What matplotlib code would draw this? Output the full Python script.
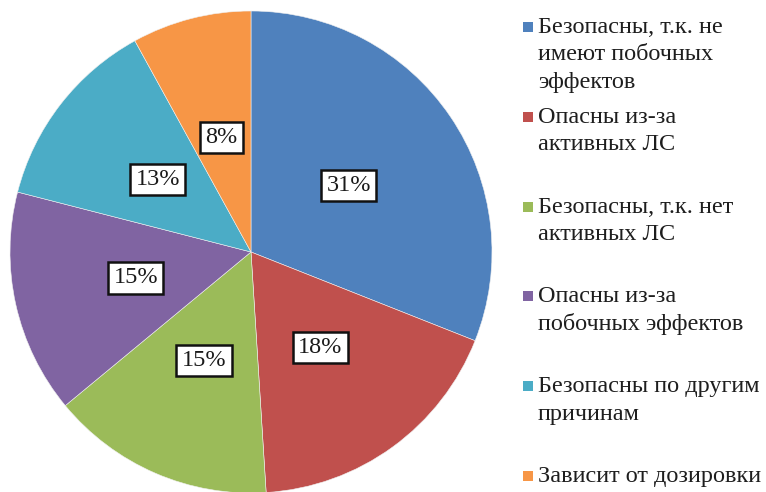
import matplotlib
matplotlib.use("Agg")
import matplotlib.pyplot as plt
from matplotlib.patches import Rectangle

categories = [
    "Безопасны, т.к. не\nимеют побочных\nэффектов",
    "Опасны из-за\nактивных ЛС",
    "Безопасны, т.к. нет\nактивных ЛС",
    "Опасны из-за\nпобочных эффектов",
    "Безопасны по другим\nпричинам",
    "Зависит от дозировки",
]
values = [31, 18, 15, 15, 13, 8]
colors = ["#4F81BD", "#C0504D", "#9BBB59", "#8064A2", "#4BACC6", "#F79646"]

W, H = 766, 492
fig = plt.figure(figsize=(W / 100, H / 100), dpi=100)
fig.patch.set_facecolor("white")

cx, cy, r = 251, 252, 241
ax = fig.add_axes([(cx - r) / W, (H - cy - r) / H, 2 * r / W, 2 * r / H])
wedges, texts, autotexts = ax.pie(
    values, colors=colors, startangle=90, counterclock=False,
    autopct=lambda p: f"{p:.0f}%", pctdistance=0.49, radius=1,
    wedgeprops=dict(linewidth=0.4, edgecolor="#f0f0f0"),
    textprops=dict(family="Liberation Serif", fontsize=17.5, color="#1a1a1a"),
)
for t in autotexts:
    t.set_bbox(dict(boxstyle="square,pad=0.22", facecolor="white", edgecolor="#111111", linewidth=1.8))
ax.set_xlim(-1, 1)
ax.set_ylim(-1, 1)
ax.set_aspect("equal")
ax.axis("off")

# legend drawn manually to mimic the slot layout of the original
x_marker, x_text = 523, 538
base0, pitch, line_h = 33, 89.8, 27.5
for i, (lab, col) in enumerate(zip(categories, colors)):
    yb = base0 + i * pitch
    fig.patches.append(Rectangle((x_marker / W, (H - yb + 1) / H), 10 / W, 10 / H,
                                 transform=fig.transFigure, facecolor=col, edgecolor="none"))
    for j, line in enumerate(lab.split("\n")):
        fig.text(x_text / W, (H - yb - j * line_h) / H, line, ha="left", va="baseline",
                 family="Liberation Serif", fontsize=17.5, color="#1e1e1e")

fig.savefig("out.png", dpi=100)
